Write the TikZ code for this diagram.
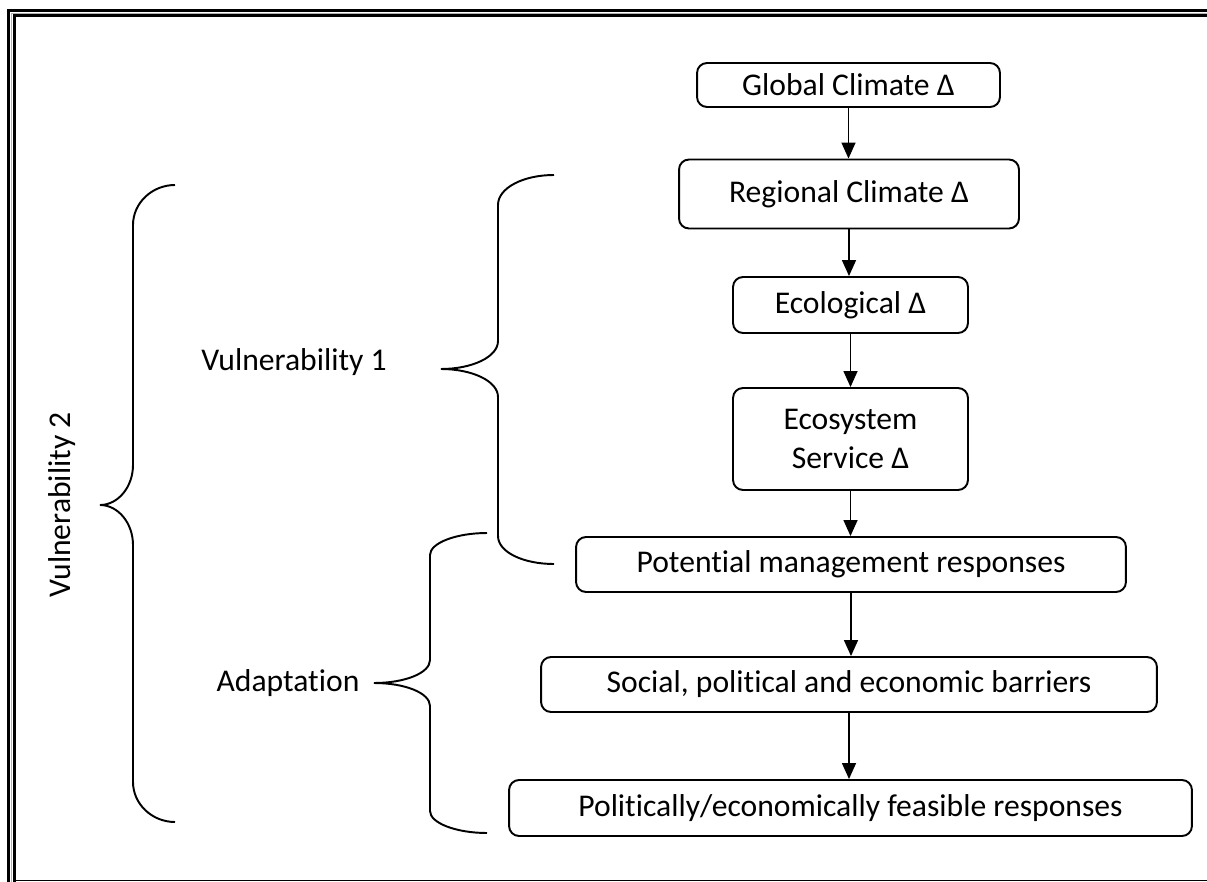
\documentclass[tikz,border=0pt]{standalone}
\usepackage{fontspec}
\setmainfont{Carlito}[Ligatures=NoCommon]
\usetikzlibrary{arrows.meta}
\begin{document}
\begin{tikzpicture}[x=0.02cm,y=-0.02cm,
  stepbox/.style={draw,line width=1.1pt,rounded corners=0.2cm,inner sep=0pt,
    align=center,font=\fontsize{18}{22}\selectfont},
  flow/.style={line width=0.85pt,-{Triangle[width=0.28cm,length=0.32cm]}},
  curly/.style={line width=1.1pt},
  label/.style={font=\fontsize{18}{22}\selectfont,inner sep=0pt}]
\useasboundingbox (0,0) rectangle (1207,882);
% frame
\draw[line width=1.7pt] (8.5,882) -- (8.5,10.5) -- (1207,10.5);
\draw[gray!60,line width=0.5pt] (11.5,882) -- (11.5,13) -- (1207,13);
\draw[line width=1.7pt] (14.5,882) -- (14.5,15.5) -- (1207,15.5);
\draw[line width=0.6pt] (15,880.5) -- (1207,880.5);
% chain of boxes
\node[stepbox,minimum width=6.06cm,minimum height=0.88cm] (glob) at (848.5,85) {Global Climate Δ};
\node[stepbox,minimum width=6.8cm,minimum height=1.38cm] (reg) at (849,194) {Regional Climate Δ};
\node[stepbox,minimum width=4.7cm,minimum height=1.12cm] (eco) at (850.5,305) {Ecological Δ};
\node[stepbox,minimum width=4.7cm,minimum height=2.04cm] (serv) at (850.5,439) {Ecosystem\\Service Δ};
\node[stepbox,minimum width=11.0cm,minimum height=1.1cm] (pot) at (851,564.5) {Potential management responses};
\node[stepbox,minimum width=12.32cm,minimum height=1.1cm] (bar) at (849,684.5) {Social, political and economic barriers};
\node[stepbox,minimum width=13.66cm,minimum height=1.12cm] (feas) at (850.5,808) {Politically/economically feasible responses};
\draw[flow] (glob.south) -- (glob.south |- reg.north);
\draw[flow] (reg.south) -- (reg.south |- eco.north);
\draw[flow] (eco.south) -- (eco.south |- serv.north);
\draw[flow] (serv.south) -- (serv.south |- pot.north);
\draw[flow] (pot.south) -- (pot.south |- bar.north);
\draw[flow] (bar.south) -- (bar.south |- feas.north);
% braces
\draw[curly] (554,175) .. controls (523,175) and (498,188) .. (498,205)
  -- (498,341) .. controls (498,357) and (472,369) .. (441,369)
  .. controls (472,369) and (498,381) .. (498,397)
  -- (498,536) .. controls (498,552) and (523,564) .. (554,564);
\draw[curly] (487,533) .. controls (456,533) and (430,543) .. (430,555)
  -- (430,660) .. controls (430,673) and (405,683) .. (374,683)
  .. controls (405,683) and (430,693) .. (430,706)
  -- (430,811) .. controls (430,823) and (456,833) .. (487,833);
\draw[curly] (175,185) .. controls (152,185) and (133,203) .. (133,225)
  -- (133,465) .. controls (133,487) and (118,505) .. (100,505)
  .. controls (118,505) and (133,523) .. (133,545)
  -- (133,782) .. controls (133,804) and (152,822) .. (175,822);
% labels
\node[label] (v1) at (294,362) {Vulnerability 1};
\node[label] (ad) at (288,683) {Adaptation};
\node[label,rotate=90] (v2) at (62,505) {Vulnerability 2};
\end{tikzpicture}
\end{document}
